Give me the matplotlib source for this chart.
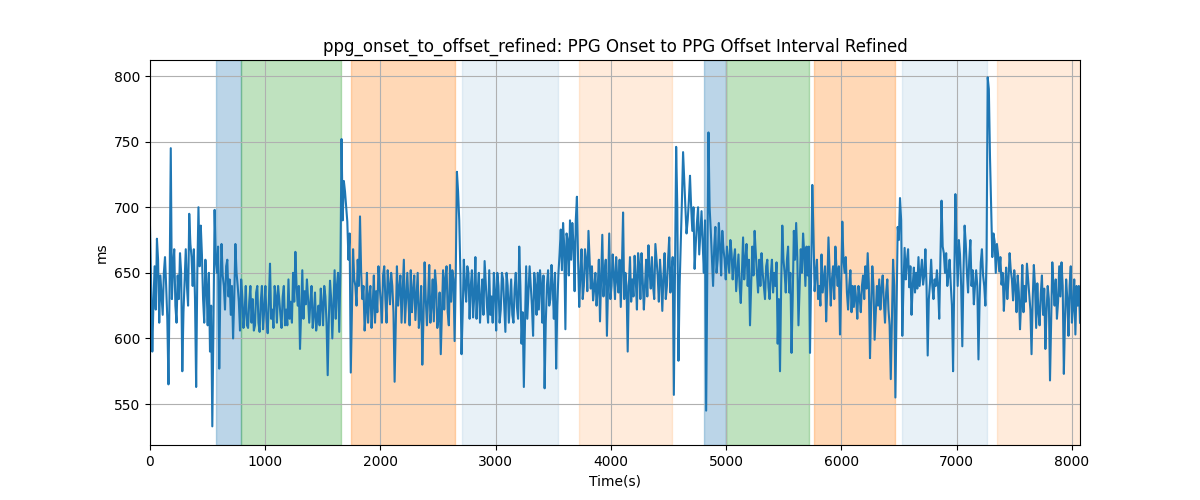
import numpy as np
import matplotlib
matplotlib.use("Agg")
import matplotlib.pyplot as plt

# interval values (ms), every 20 s
interval_ms = [
    685, 590, 655, 676, 612, 633, 650, 640, 565, 745, 655, 625, 648, 665, 575, 645, 640,
    695, 662, 668, 563, 700, 686, 630, 660, 610, 590, 533, 698, 650, 577, 672, 640, 655,
    632, 618, 600, 672, 640, 606, 632, 620, 610, 628, 612, 606, 635, 612, 628, 607, 640,
    604, 657, 622, 640, 612, 630, 608, 640, 622, 645, 628, 650, 666, 625, 592, 652, 636,
    645, 612, 640, 618, 606, 625, 638, 610, 632, 572, 644, 600, 652, 640, 605, 752, 720,
    700, 660, 574, 668, 640, 660, 693, 630, 606, 650, 632, 608, 648, 636, 655, 628, 648,
    630, 652, 626, 640, 567, 655, 638, 612, 660, 630, 628, 652, 636, 614, 650, 618, 580,
    658, 610, 656, 625, 613, 640, 615, 588, 652, 646, 620, 656, 652, 598, 727, 690, 588,
    660, 628, 650, 640, 616, 662, 636, 612, 645, 659, 625, 652, 632, 650, 606, 640, 622,
    645, 605, 640, 628, 618, 638, 624, 670, 596, 563, 655, 636, 640, 602, 640, 650, 652,
    612, 562, 640, 625, 656, 615, 577, 650, 683, 688, 607, 675, 690, 688, 636, 708, 624,
    668, 640, 660, 682, 638, 629, 650, 638, 613, 679, 650, 602, 680, 640, 648, 662, 635,
    624, 696, 650, 590, 662, 645, 663, 622, 656, 665, 622, 660, 671, 638, 640, 672, 648,
    660, 621, 665, 640, 677, 650, 557, 746, 583, 672, 742, 700, 690, 724, 682, 653, 688,
    664, 697, 650, 545, 757, 682, 640, 685, 660, 670, 682, 660, 670, 650, 665, 660, 636,
    664, 627, 677, 660, 640, 610, 670, 682, 650, 660, 665, 640, 655, 639, 648, 635,
    640, 596, 575, 686, 650, 660, 635, 589, 682, 688, 610, 668, 680, 640, 648, 589, 717,
    636, 660, 640, 664, 645, 613, 677, 625, 655, 670, 640, 603, 689, 650, 635, 640, 620,
    624, 630, 640, 620, 648, 655, 665, 585, 655, 599, 640, 645, 638, 628, 635, 622, 569,
    660, 555, 685, 707, 602, 669, 659, 639, 618, 654, 650, 662, 650, 641, 668, 587, 642,
    640, 645, 652, 615, 705, 665, 665, 648, 641, 575, 710, 640, 664, 594, 686, 650, 660,
    640, 626, 652, 584, 658, 648, 625, 799, 738, 662, 674, 672, 651, 641, 621, 654, 645,
    652, 629, 640, 648, 607, 656, 640, 657, 632, 588, 656, 608, 620, 634, 618, 592, 640,
    568, 658, 625, 615, 655, 658, 573, 645, 602, 655, 624, 603, 625, 612,
]
# readings taken halfway between the ones above (beat-to-beat jitter)
interval_mid_ms = [
    640, 628, 622, 660, 648, 618, 662, 615, 640, 630, 668, 612, 630, 650, 620, 668, 625,
    672, 640, 630, 650, 655, 664, 612, 640, 650, 625, 610, 660, 670, 640, 648, 622, 660,
    645, 640, 630, 650, 628, 645, 608, 640, 608, 640, 630, 610, 640, 605, 640, 622, 615,
    628, 615, 608, 632, 640, 618, 632, 610, 610, 615, 612, 628, 640, 640, 620, 615, 626,
    630, 628, 608, 635, 615, 610, 625, 640, 612, 615, 630, 625, 615, 650, 650, 690, 712,
    689, 680, 620, 645, 625, 640, 650, 640, 620, 612, 640, 625, 612, 620, 640, 612, 655,
    612, 640, 650, 620, 610, 625, 648, 635, 612, 650, 610, 620, 648, 632, 608, 640, 615,
    630, 630, 612, 645, 652, 608, 635, 620, 622, 655, 610, 628, 645, 650, 712, 650, 620,
    640, 655, 615, 652, 632, 615, 650, 630, 618, 642, 612, 618, 612, 636, 650, 612, 650,
    625, 650, 612, 645, 612, 650, 615, 640, 620, 612, 615, 655, 625, 650, 618, 622, 640,
    648, 612, 652, 630, 640, 650, 625, 665, 652, 670, 680, 648, 660, 672, 690, 660, 650,
    630, 668, 636, 660, 655, 638, 625, 660, 645, 632, 660, 640, 630, 664, 630, 645, 660,
    655, 630, 640, 640, 628, 632, 645, 665, 630, 645, 640, 632, 650, 662, 630, 660, 628,
    645, 648, 630, 660, 635, 662, 650, 700, 640, 705, 720, 680, 705, 700, 700, 672, 700,
    680, 672, 690, 650, 700, 660, 670, 650, 688, 648, 668, 645, 660, 675, 645, 668, 650,
    640, 650, 645, 672, 660, 640, 648, 665, 635, 640, 650, 630, 660, 630, 660, 650,
    658, 630, 640, 660, 635, 670, 650, 630, 660, 662, 640, 650, 665, 670, 670, 650, 680,
    650, 630, 625, 635, 655, 640, 650, 645, 630, 652, 655, 640, 660, 662, 622, 652, 640,
    640, 615, 632, 640, 630, 638, 642, 625, 640, 620, 625, 622, 648, 612, 645, 610, 615,
    640, 620, 675, 690, 640, 645, 668, 655, 640, 635, 638, 640, 660, 648, 640, 630, 660,
    630, 640, 640, 660, 670, 650, 640, 660, 625, 640, 670, 675, 640, 650, 672, 635, 675,
    652, 640, 640, 630, 668, 640, 660, 790, 700, 680, 650, 664, 662, 650, 640, 630, 665,
    645, 652, 620, 635, 628, 620, 628, 645, 622, 630, 640, 642, 610, 648, 638, 620, 630,
    615, 640, 645, 628, 632, 640, 615, 630, 640, 612, 645, 640, 640,
]
t_end = 8070

values = np.empty(2 * len(interval_ms) - 1)
values[0::2] = interval_ms
values[1::2] = interval_mid_ms
time_s = np.linspace(0, t_end, len(values))

# shaded phases: (start, end, colour, alpha)
span_start = [573, 792, 1744, 2704, 3722, 4807, 4995, 5761, 6525, 7349]
span_end = [792, 1654, 2643, 3540, 4526, 4995, 5715, 6461, 7260, 8070]
span_color = ['C0', 'C2', 'C1', 'C0', 'C1', 'C0', 'C2', 'C1', 'C0', 'C1']
span_alpha = [0.3, 0.3, 0.3, 0.1, 0.15, 0.3, 0.3, 0.3, 0.1, 0.15]

fig, ax = plt.subplots(figsize=(12, 5), dpi=100)

for s, e, c, a in zip(span_start, span_end, span_color, span_alpha):
    ax.axvspan(s, e, color=c, alpha=a)

ax.plot(time_s, values, color='C0', linewidth=1.5)

ax.set_xlim(0, t_end)
ax.set_ylim(518.8, 812.2)
ax.set_title("ppg_onset_to_offset_refined: PPG Onset to PPG Offset Interval Refined")
ax.set_xlabel("Time(s)")
ax.set_ylabel("ms")
ax.grid(True)

fig.savefig("out.png")
